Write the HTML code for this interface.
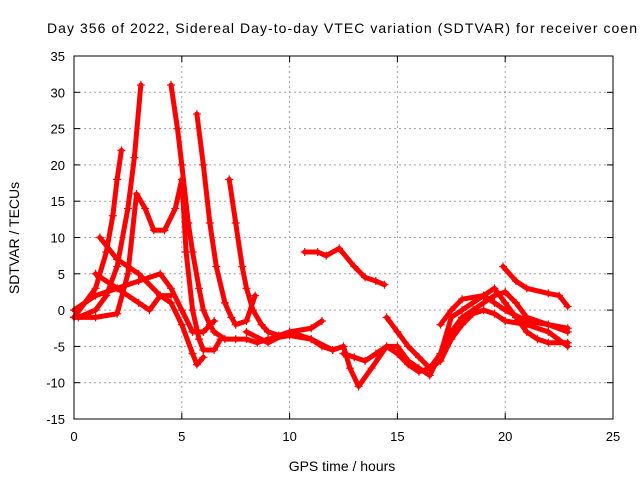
<!DOCTYPE html>
<html><head><meta charset="utf-8"><style>
body{margin:0;background:#fff}
svg{display:block;font-family:"Liberation Sans",sans-serif}
</style></head><body>
<svg id="chart" width="640" height="480">
<rect width="640" height="480" fill="#fff"/>
<text x="47" y="33" font-size="14" textLength="590" lengthAdjust="spacing">Day 356 of 2022, Sidereal Day-to-day VTEC variation (SDTVAR) for receiver coen</text>
<text x="342" y="471" font-size="14" text-anchor="middle">GPS time / hours</text>
<text transform="translate(19,238) rotate(-90)" font-size="14" text-anchor="middle">SDTVAR / TECUs</text>
<g id="grid"></g><g id="ticks"></g><g id="series"></g>
<rect x="74" y="56" width="539" height="363" fill="none" stroke="#000"/>
</svg>
<script>
const xTicks=[0,5,10,15,20,25];
const yTicks=[35,30,25,20,15,10,5,0,-5,-10,-15];
const trackA=[[0,-1],[0.5,1],[1,3],[1.5,8],[1.8,13],[2,18],[2.2,22]];
const trackB=[[0.2,-1],[1,0],[1.5,2],[2,6],[2.5,14],[2.8,21],[3.1,31]];
const trackC=[[4.5,31],[4.8,25],[5,20],[5.3,12],[5.5,8],[5.8,3],[6,0],[6.3,-2],[6.5,-3],[7,-4],[7.5,-4],[8,-4],[8.5,-4.5],[9,-4],[10,-3.5],[11,-4],[11.5,-5],[12,-5.5]];
const trackD=[[5.7,27],[6,20],[6.3,12],[6.6,6],[7,1],[7.3,-1],[7.5,-2],[8,-1.5],[8.4,2]];
const trackE=[[7.2,18],[7.5,12],[7.8,6],[8,3],[8.3,0],[8.7,-2],[9,-3],[9.5,-3.5],[10,-3],[11,-2.5],[11.5,-1.5]];
const trackF=[[0,-1],[1,-1],[2,-0.5],[2.5,5],[2.9,16],[3.3,14],[3.7,11],[4.2,11],[4.7,14],[5,18],[5.2,8],[5.5,0],[5.8,-4],[6,-5.5],[6.5,-5.5],[6.8,-4]];
const trackG=[[1.2,10],[2,7],[3,5],[4,2],[4.5,1],[5,-2],[5.5,-6],[5.7,-7.5],[6,-6.5]];
const trackH=[[0,0],[1,2],[2,3],[3,4],[4,5],[4.5,3],[5,0],[5.5,-3],[6,-3],[6.5,-1.5]];
const trackI=[[1,5],[2,3],[3,1],[3.5,0],[4,2],[4.5,2]];
const trackJ=[[10.7,8],[11.3,8],[11.7,7.5],[12.3,8.5],[13,6],[13.5,4.5],[14,4],[14.4,3.5]];
const trackK=[[8,-3],[9,-4.5],[10,-3],[11,-4],[12,-5.5],[12.5,-5],[12.8,-8],[13.2,-10.5],[13.8,-8],[14.5,-5],[15,-5],[15.5,-7],[16,-8],[16.5,-9],[17,-6],[17.5,-3],[18,-1],[19,1],[19.5,2],[20,2.5],[20.5,1],[21,-1],[22,-2],[22.9,-3]];
const trackL=[[14.5,-1],[15,-3],[15.5,-5],[16,-6.5],[16.5,-8],[17,-7],[17.5,-4],[18,-2],[18.5,-0.5],[19,0],[19.5,-0.5],[20,-1.5],[21,-2],[22,-3],[22.9,-5]];
const trackM=[[12.5,-6],[13,-6.5],[13.5,-7],[14,-6],[14.5,-5],[15,-6],[15.5,-7.5],[16,-8.5],[16.5,-8],[17,-6],[17.5,-1],[18,0],[18.5,1],[19,2],[19.5,3],[20,1],[20.5,-1],[21,-3],[21.5,-4],[22,-4.5],[22.9,-4.5]];
const trackN=[[19.9,6],[20.5,4],[21,3],[22,2.3],[22.5,2],[22.9,0.5]];
const trackO=[[17,-2],[17.5,0],[18,1.5],[19,2],[19.5,1],[20,0],[21,-1.5],[22,-2],[22.9,-2.5]];
const tracks=[trackA,trackB,trackC,trackD,trackE,trackF,trackG,trackH,trackI,trackJ,trackK,trackL,trackM,trackN,trackO];
const X0=74,X1=613,Y0=419,Y1=56;
const sx=v=>X0+(v-0)/(25-0)*(X1-X0);
const sy=v=>Y0-(v+15)/(35+15)*(Y0-Y1);
const NS="http://www.w3.org/2000/svg";
function mk(t,a,p){const e=document.createElementNS(NS,t);for(const k in a)e.setAttribute(k,a[k]);p.appendChild(e);return e;}
const grid=document.getElementById('grid'),ticks=document.getElementById('ticks'),ser=document.getElementById('series');
xTicks.forEach(v=>{const x=sx(v);
 if(v>0&&v<25){const l=mk('line',{x1:x,x2:x,y1:Y1,y2:Y0,stroke:'#a0a0a0','stroke-dasharray':'2,3'},grid);
 
 }
 mk('line',{x1:x,x2:x,y1:Y0,y2:Y0-6,stroke:'#000'},ticks);mk('line',{x1:x,x2:x,y1:Y1,y2:Y1+6,stroke:'#000'},ticks);
 const t=mk('text',{x:x,y:Y0+22,'font-size':13,'text-anchor':'middle'},ticks);t.textContent=v;
 
 });
yTicks.forEach(v=>{const y=sy(v);
 if(v>-15&&v<35){const l=mk('line',{x1:X0,x2:X1,y1:y,y2:y,stroke:'#a0a0a0','stroke-dasharray':'2,3'},grid);
 
 }
 mk('line',{x1:X0,x2:X0+6,y1:y,y2:y,stroke:'#000'},ticks);mk('line',{x1:X1,x2:X1-6,y1:y,y2:y,stroke:'#000'},ticks);
 const t=mk('text',{x:X0-9,y:y+5,'font-size':13,'text-anchor':'end'},ticks);t.textContent=v;
 
 });
tracks.forEach((tr,i)=>{
 const g=mk('g',{},ser);
 
 
 mk('polyline',{points:tr.map(p=>sx(p[0])+','+sy(p[1])).join(' '),fill:'none',stroke:'#f00','stroke-width':5,'stroke-linejoin':'round','stroke-linecap':'round'},g);
 tr.forEach(p=>{const x=sx(p[0]),y=sy(p[1]);
  mk('path',{d:`M${x-4},${y}H${x+4}M${x},${y-4}V${y+4}`,stroke:'#f00','stroke-width':1.2},g);});
});
</script>
</body></html>
